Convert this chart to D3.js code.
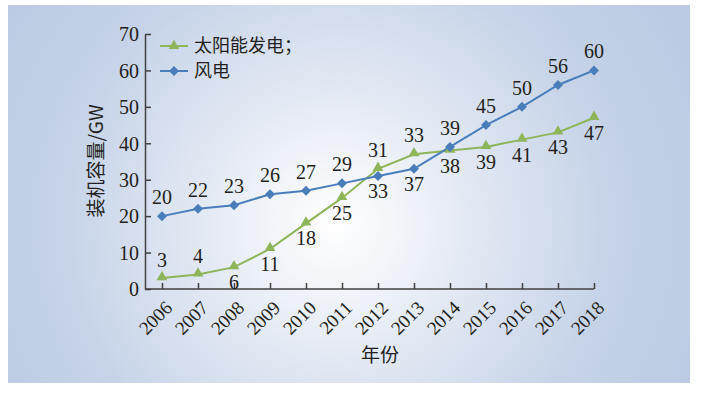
<!DOCTYPE html>
<html>
<head>
<meta charset="utf-8">
<script src="https://cdn.jsdelivr.net/npm/d3@7"></script>
<style>
  body { margin: 0; background: #fff; }
  text { font-family: "Liberation Serif", "Times New Roman", serif; fill: #231f20; }
  .cjk { font-family: "Noto Sans CJK SC", serif; }
</style>
</head>
<body>
<div id="chart"></div>
<script>
// data
var years = ['2006','2007','2008','2009','2010','2011','2012','2013','2014','2015','2016','2017','2018'];
var solar = [3, 4, 6, 11, 18, 25, 33, 37, 38, 39, 41, 43, 47];
var wind = [20, 22, 23, 26, 27, 29, 31, 33, 39, 45, 50, 56, 60];
var yTicks = [0, 10, 20, 30, 40, 50, 60, 70];
// solar labels sit above the point for the first two years, below otherwise
var solarAbove = [true, true, false, false, false, false, false, false, false, false, false, false, false];

var svgWidth = 705, svgHeight = 394;
var margin = {left: 145, right: 111, top: 34, bottom: 105};
var width = svgWidth - margin.left - margin.right;
var height = svgHeight - margin.top - margin.bottom;

var svg = d3.select('#chart')
            .append('svg')
            .attr('width', svgWidth)
            .attr('height', svgHeight);

var defs = svg.append('defs');
var grad = defs.append('radialGradient')
               .attr('id', 'bg')
               .attr('gradientUnits', 'userSpaceOnUse')
               .attr('cx', 335).attr('cy', 225).attr('r', 390);
grad.append('stop').attr('offset', '0%').attr('stop-color', '#ffffff');
grad.append('stop').attr('offset', '70%').attr('stop-color', '#c6d3e8');
grad.append('stop').attr('offset', '100%').attr('stop-color', '#bccbe3');

svg.append('rect')
   .attr('x', 8).attr('y', 5)
   .attr('width', 682).attr('height', 378)
   .attr('fill', 'url(#bg)');

var g = svg.append('g')
           .attr('transform', 'translate(' + margin.left + ',' + margin.top + ')');

var xScale = d3.scalePoint()
               .domain(years)
               .range([17, width])
               .padding(0);

var yScale = d3.scaleLinear()
               .domain([0, 70])
               .range([height, 0]);

// y axis, ticks pointing inward
var yAxis = d3.axisRight(yScale).tickValues(yTicks).tickSize(6).tickSizeOuter(0);
var yg = g.append('g').call(yAxis);
yg.select('.domain').attr('stroke', '#404040').attr('stroke-width', 1.5);
yg.selectAll('.tick line').attr('stroke', '#404040').attr('stroke-width', 1.5);
yg.selectAll('.tick text')
  .attr('x', -6)
  .attr('text-anchor', 'end')
  .attr('dy', '0.34em')
  .style('font-size', '20px')
  .style('font-family', '"Liberation Serif", serif')
  .attr('fill', '#231f20');

// x axis
var xAxis = d3.axisTop(xScale).tickSize(6).tickSizeOuter(0);
var xg = g.append('g').attr('transform', 'translate(0,' + height + ')').call(xAxis);
xg.select('.domain').attr('stroke', '#404040').attr('stroke-width', 1.5)
  .attr('d', 'M0,0H' + width);
xg.selectAll('.tick line').attr('stroke', '#404040').attr('stroke-width', 1.5);
xg.selectAll('.tick text')
  .attr('x', 0).attr('y', 0)
  .attr('text-anchor', 'end')
  .attr('dy', null)
  .attr('transform', 'translate(11,20) rotate(-45)')
  .style('font-size', '19px')
  .style('font-family', '"Liberation Serif", serif')
  .attr('fill', '#231f20');

// axis titles
svg.append('text')
   .attr('class', 'cjk')
   .attr('transform', 'translate(103,161) rotate(-90)')
   .attr('text-anchor', 'middle')
   .style('font-size', '19px')
   .text('装机容量/GW');

svg.append('text')
   .attr('class', 'cjk')
   .attr('x', 380).attr('y', 362)
   .attr('text-anchor', 'middle')
   .style('font-size', '19px')
   .text('年份');

var line = d3.line()
             .x(function(d, i) { return xScale(years[i]); })
             .y(function(d) { return yScale(d); });

var green = '#8fb55a', blue = '#4a7ebb';

g.append('path').datum(solar)
 .attr('d', line).attr('fill', 'none')
 .attr('stroke', green).attr('stroke-width', 2);

g.append('path').datum(wind)
 .attr('d', line).attr('fill', 'none')
 .attr('stroke', blue).attr('stroke-width', 2);

var tri = d3.symbol().type(d3.symbolTriangle).size(50);
var sq = d3.symbol().type(d3.symbolSquare).size(50);

g.selectAll('.sp').data(solar).enter()
 .append('path')
 .attr('d', tri)
 .attr('transform', function(d, i) { return 'translate(' + xScale(years[i]) + ',' + (yScale(d) - 1) + ')'; })
 .attr('fill', green);

g.selectAll('.wp').data(wind).enter()
 .append('path')
 .attr('d', sq)
 .attr('transform', function(d, i) { return 'translate(' + xScale(years[i]) + ',' + yScale(d) + ') rotate(45)'; })
 .attr('fill', blue);

// labels: wind above the upper point, solar below the lower point
g.selectAll('.wl').data(wind).enter()
 .append('text')
 .attr('x', function(d, i) { return xScale(years[i]); })
 .attr('y', function(d, i) { return Math.min(yScale(d), yScale(solar[i])) - 12; })
 .attr('text-anchor', 'middle')
 .style('font-size', '20px')
 .text(function(d) { return d; });

g.selectAll('.sl').data(solar).enter()
 .append('text')
 .attr('x', function(d, i) { return xScale(years[i]); })
 .attr('y', function(d, i) {
   return solarAbove[i] ? yScale(d) - 11 : Math.max(yScale(d), yScale(wind[i])) + 22;
 })
 .attr('text-anchor', 'middle')
 .style('font-size', '20px')
 .text(function(d) { return d; });

// legend
var legend = svg.append('g').attr('transform', 'translate(160,46)');
var items = [
  {name: '太阳能发电；', color: green, sym: tri, rot: 0},
  {name: '风电', color: blue, sym: sq, rot: 45}
];
items.forEach(function(it, i) {
  var lg = legend.append('g').attr('transform', 'translate(0,' + (i * 25) + ')');
  lg.append('line').attr('x1', 0).attr('x2', 28).attr('y1', 0).attr('y2', 0)
    .attr('stroke', it.color).attr('stroke-width', 2);
  lg.append('path').attr('d', it.sym)
    .attr('transform', 'translate(14,0) rotate(' + it.rot + ')')
    .attr('fill', it.color);
  lg.append('text').attr('class', 'cjk')
    .attr('x', 34).attr('y', 0).attr('dy', '0.36em')
    .style('font-size', '18px')
    .text(it.name);
});
</script>
</body>
</html>
